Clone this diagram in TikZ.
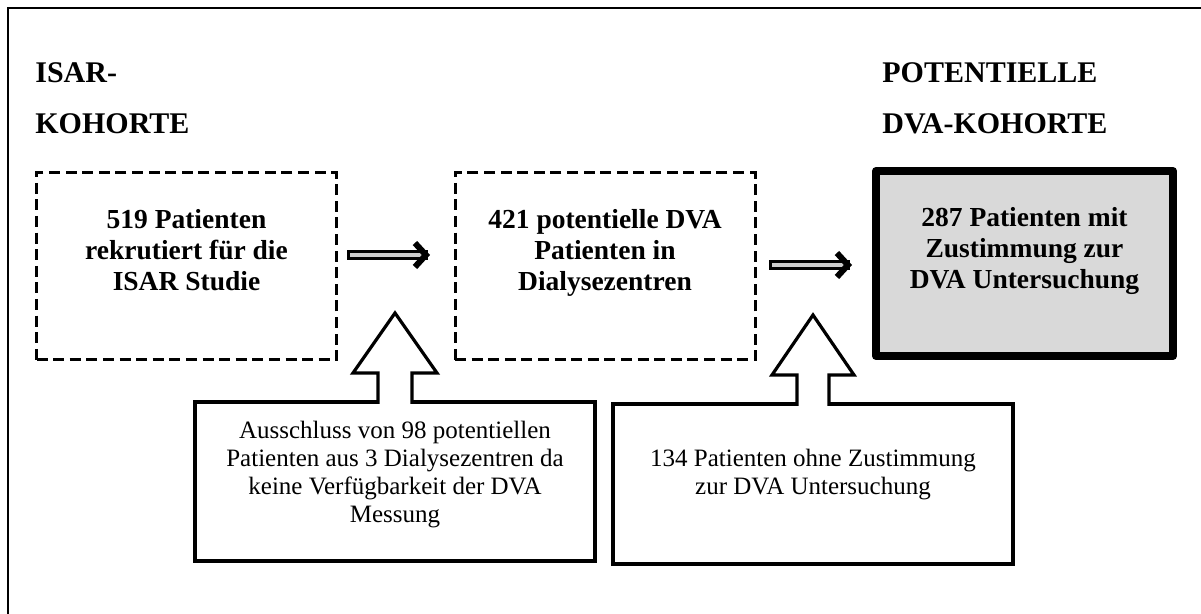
\documentclass[tikz,border=0pt]{standalone}
\usepackage{fontspec}
\setmainfont{Liberation Serif}
\usetikzlibrary{arrows.meta,positioning,calc}

\tikzset{
  dashbox/.style={draw, dash pattern=on 5.5pt off 2.8pt, line width=1.5pt,
    minimum width=150pt, minimum height=93.5pt, outer sep=0pt, inner sep=0pt},
  finalbox/.style={draw, line width=4pt, line join=round, fill=black!15,
    minimum width=148.5pt, minimum height=92.5pt, outer sep=0pt, inner sep=0pt},
  exclbox/.style={draw, line width=1.6pt, minimum width=200pt,
    outer sep=0pt, inner sep=0pt},
  boldtxt/.style={font=\fontsize{13.75}{15.5}\selectfont\bfseries, align=center, inner sep=0pt},
  plaintxt/.style={font=\fontsize{12.5}{14}\selectfont, align=center, inner sep=0pt},
  cohort/.style={font=\fontsize{15}{25.5}\selectfont\bfseries, align=left, inner sep=0pt, anchor=north west},
  dblarrow/.style={double=black!20, double distance=2pt, line width=1.5pt, line cap=rect,
    -{Straight Barb[length=5.5pt,width=12pt,line width=3pt]}},
  blockarr/.style={draw, fill=white, line width=1.6pt, line join=miter}
}

\begin{document}
\begin{tikzpicture}[x=0.5pt,y=-0.5pt]
  \useasboundingbox (0,0) rectangle (1201,614);
  % frame
  \draw[line width=1pt] (8,614) -- (8,8) -- (1201,8);

  % cohort headings
  \node[cohort] (isartitle) at (35,62) {ISAR-\\KOHORTE};
  \node[cohort] (dvatitle) at (882,62) {POTENTIELLE\\DVA-KOHORTE};

  % main row
  \node[dashbox] (isar) at (186.5,266.5) {};
  \node[dashbox] (pot) at (605,266.5) {};
  \node[finalbox] (dva) at (1024.5,263.5) {};
  \node[boldtxt, below=18pt of isar.north] (isartxt) {519 Patienten\\rekrutiert für die\\ISAR Studie};
  \node[boldtxt, below=18pt of pot.north] (pottxt) {421 potentielle DVA\\Patienten in\\Dialysezentren};
  \node[boldtxt, below=18pt of dva.north] (dvatxt) {287 Patienten mit\\Zustimmung zur\\DVA Untersuchung};

  \draw[dblarrow, shorten <=7.5pt, shorten >=12.5pt] ([yshift=5.75pt]isar.east) -- ([yshift=5.75pt]pot.west);
  \draw[dblarrow, shorten <=9.5pt, shorten >=12pt] ([yshift=0.75pt]pot.east) -- ([yshift=-0.75pt]dva.west);

  % exclusions
  \node[exclbox, minimum height=79.5pt] (excl) at (395,481.5) {};
  \node[exclbox, minimum height=80pt] (nocons) at (813,484) {};
  \node[plaintxt, below=9.5pt of excl.north] (excltxt) {Ausschluss von 98 potentiellen\\Patienten aus 3 Dialysezentren da\\keine Verfügbarkeit der DVA\\Messung};
  \node[plaintxt, below=22.5pt of nocons.north] (noconstxt) {134 Patienten ohne Zustimmung\\zur DVA Untersuchung};

  \filldraw[blockarr] ($(excl.north)+(-17,2)$) -- ++(0,-31) -- ++(-25,0) -- ++(42,-60)
    -- ++(42,60) -- ++(-25,0) -- ++(0,31);
  \filldraw[blockarr] ($(nocons.north)+(-16,2)$) -- ++(0,-31) -- ++(-25,0) -- ++(41,-60)
    -- ++(41,60) -- ++(-25,0) -- ++(0,31);
\end{tikzpicture}
\end{document}
